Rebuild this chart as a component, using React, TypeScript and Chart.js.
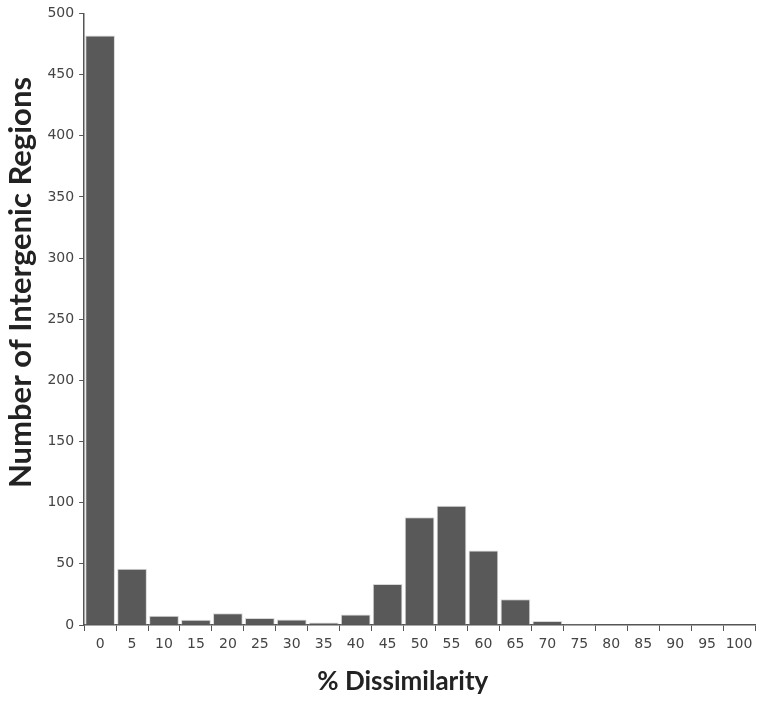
import React, { useEffect, useRef } from "react";
import { Chart, registerables } from "chart.js";

Chart.register(...registerables);

const categories = ["0", "5", "10", "15", "20", "25", "30", "35", "40", "45", "50", "55", "60", "65", "70", "75", "80", "85", "90", "95", "100"];
const counts = [482, 46, 7.5, 4.3, 9.7, 5.8, 4.4, 2, 8.5, 33.5, 88, 97.5, 61, 21, 3.3, 1, 0, 0, 0, 0, 0];
const yTicks = [0, 50, 100, 150, 200, 250, 300, 350, 400, 450, 500];
const xTitle = "% Dissimilarity";
const yTitle = "Number of Intergenic Regions";

const titlePlugin = {
  id: "customTitles",
  afterDraw(chart: any) {
    const { ctx, chartArea } = chart;
    ctx.save();
    ctx.fillStyle = "#222";
    ctx.textAlign = "center";
    ctx.textBaseline = "middle";
    ctx.font = "bold 26px Lato, sans-serif";
    const xs = chart.scales.x;
    const xc = chartArea.left + (chartArea.right - chartArea.left) * 0.475;
    ctx.fillText(xTitle, xc, xs.bottom - 15);
    ctx.font = "bold 31px Lato, sans-serif";
    const ys = chart.scales.y;
    const yc = chartArea.top + (chartArea.bottom - chartArea.top) * 0.44;
    ctx.translate(ys.left + 18, yc);
    ctx.rotate(-Math.PI / 2);
    ctx.fillText(yTitle, 0, 0);
    ctx.restore();
  },
};

export default function App() {
  const ref = useRef<HTMLCanvasElement | null>(null);
  useEffect(() => {
    document.body.style.margin = "0";
    const ctx = ref.current!;
    const chart = new Chart(ctx, {
      type: "bar",
      data: {
        labels: categories,
        datasets: [
          {
            data: counts,
            backgroundColor: "#595959",
            borderColor: "#d8d8d8",
            borderWidth: (c: any) => (c.raw === 0 ? 0 : 1),
            barPercentage: 0.93,
            categoryPercentage: 1,
          },
        ],
      },
      options: {
        animation: false,
        responsive: false,
        maintainAspectRatio: false,
        layout: { padding: { top: 3, right: 7, left: 3, bottom: 4 } },
        plugins: { legend: { display: false }, tooltip: { enabled: false } },
        scales: {
          x: {
            grid: { drawOnChartArea: false, drawTicks: true, tickLength: 6, color: "#555", offset: true },
            border: { color: "#555", width: 1.5 },
            ticks: { color: "#444", font: { family: "'DejaVu Sans', sans-serif", size: 14 }, padding: 5, maxRotation: 0, autoSkip: false },
            title: { display: true, text: xTitle, color: "rgba(0,0,0,0)", font: { family: "Lato, sans-serif", size: 26, weight: "bold" }, padding: { top: 8, bottom: 0 } },
          },
          y: {
            min: 0,
            max: 500,
            afterBuildTicks: (axis: any) => {
              axis.ticks = yTicks.map((v) => ({ value: v }));
            },
            grid: { drawOnChartArea: false, drawTicks: true, tickLength: 5, color: "#555" },
            border: { color: "#555", width: 1.5 },
            ticks: { color: "#444", font: { family: "'DejaVu Sans', sans-serif", size: 14 }, padding: 5 },
            title: { display: true, text: yTitle, color: "rgba(0,0,0,0)", font: { family: "Lato, sans-serif", size: 27, weight: "bold" }, padding: { top: 0, bottom: 7 } },
          },
        },
      },
      plugins: [titlePlugin],
    });
    return () => chart.destroy();
  }, []);
  return (
    <div style={{ width: 762, height: 701 }}>
      <canvas ref={ref} width={762} height={701} style={{ display: "block" }} />
    </div>
  );
}
